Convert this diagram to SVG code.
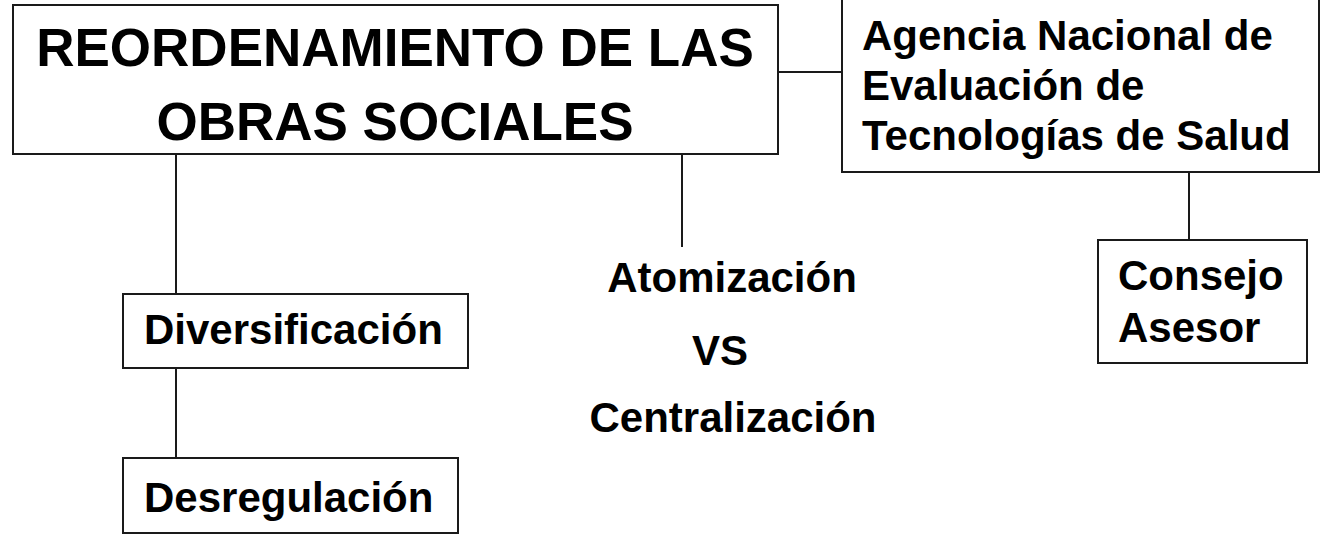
<svg xmlns="http://www.w3.org/2000/svg" width="1327" height="534" viewBox="0 0 1327 534">
<style>
.box{fill:#fff;stroke:#1a1a1a;stroke-width:2}
.ln{stroke:#1a1a1a;stroke-width:2;fill:none}
text{font-family:"Liberation Sans",Arial,sans-serif;font-weight:bold;fill:#000}
.t{font-size:42px}
.h{font-size:53px}
</style>
<rect width="1327" height="534" fill="#fff"/>
<g id="connectors">
<line class="ln" x1="778" y1="72" x2="842" y2="72"/>
<line class="ln" x1="176" y1="154" x2="176" y2="294"/>
<line class="ln" x1="176" y1="368" x2="176" y2="458"/>
<line class="ln" x1="682" y1="154" x2="682" y2="247"/>
<line class="ln" x1="1189" y1="172" x2="1189" y2="239"/>
</g>
<g id="main">
<rect class="box" x="13" y="5" width="765" height="149"/>
<text class="h" x="395" y="66" text-anchor="middle">REORDENAMIENTO DE LAS</text>
<text class="h" x="395" y="140" text-anchor="middle">OBRAS SOCIALES</text>
</g>
<g id="agencia">
<rect class="box" x="842" y="-5" width="477" height="177"/>
<text class="t" x="862" y="50">Agencia Nacional de</text>
<text class="t" x="862" y="100">Evaluación de</text>
<text class="t" x="862" y="150">Tecnologías de Salud</text>
</g>
<g id="diversificacion">
<rect class="box" x="123" y="294" width="345" height="74"/>
<text class="t" x="144" y="344">Diversificación</text>
</g>
<g id="desregulacion">
<rect class="box" x="123" y="458" width="335" height="75"/>
<text class="t" x="144" y="512">Desregulación</text>
</g>
<g id="atomizacion">
<text class="t" x="732" y="292" text-anchor="middle">Atomización</text>
<text class="t" x="720" y="365" text-anchor="middle">VS</text>
<text class="t" x="733" y="432" text-anchor="middle">Centralización</text>
</g>
<g id="consejo">
<rect class="box" x="1098" y="240" width="209" height="123"/>
<text class="t" x="1118" y="290">Consejo</text>
<text class="t" x="1118" y="342">Asesor</text>
</g>
</svg>
